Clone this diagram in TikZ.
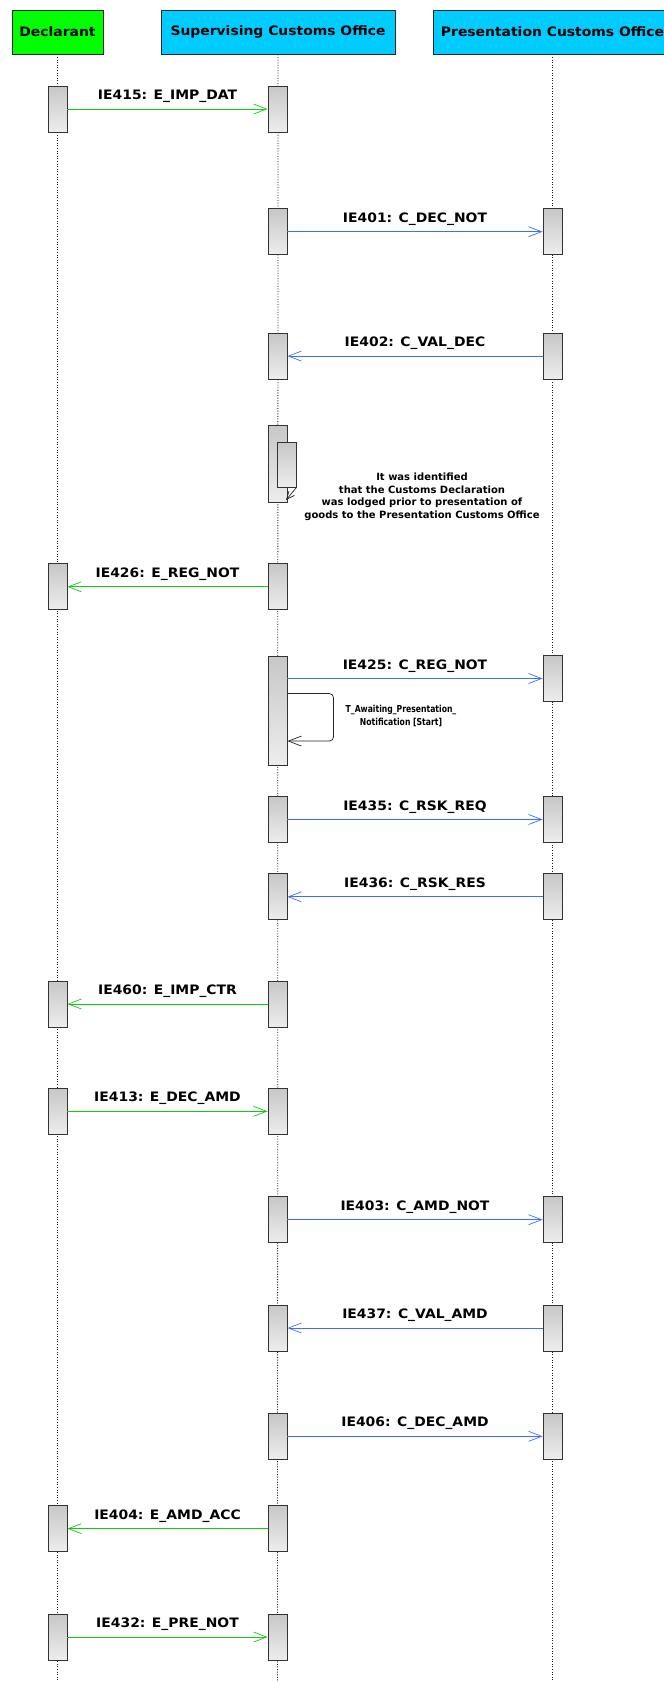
\documentclass[tikz,border=0pt]{standalone}
\usepackage{fontspec}
\usetikzlibrary{arrows.meta,calc}
\newfontfamily\lblfont{DejaVu Sans}[FakeStretch=1.07]
\newfontfamily\notefont{DejaVu Sans}
\newfontfamily\condfont{DejaVu Sans}[FakeStretch=0.8]
\definecolor{hdrgreen}{RGB}{0,255,0}
\definecolor{hdrcyan}{RGB}{0,204,255}
\definecolor{msggreen}{RGB}{20,200,20}
\definecolor{msgblue}{RGB}{60,110,255}
\begin{document}
\begin{tikzpicture}[x=1pt,y=-1pt,
 hdr/.style={draw=black!85, line width=0.9pt, minimum height=44pt, inner sep=0pt,
   font=\lblfont\bfseries\fontsize{13}{15}\selectfont},
 act/.style={draw=black!80, line width=0.9pt, top color=black!22, bottom color=black!7,
   minimum width=19pt, minimum height=46pt, inner sep=0pt},
 life/.style={black!90, line width=0.8pt, dash pattern=on 1pt off 1.6pt},
 tip/.style={-{Straight Barb[length=13pt,width=10pt,line width=0.7pt]}},
 gmsg/.style={tip, msggreen, line width=0.9pt},
 bmsg/.style={tip, msgblue, line width=0.9pt},
 kmsg/.style={black!85, line width=0.7pt},
 lbl/.style={midway, anchor=base, yshift=9.5pt, text=black, inner sep=0pt,
   font=\lblfont\bfseries\fontsize{13}{15}\selectfont},
 notetext/.style={align=center, inner sep=0pt, text=black,
   font=\notefont\bfseries\fontsize{10}{12.5}\selectfont},
 condtext/.style={align=center, inner sep=0pt, text=black,
   font=\condfont\bfseries\fontsize{9.6}{13}\selectfont}
]
\useasboundingbox (0,0) rectangle (664,1682);
\fill[white] (0,0) rectangle (664,1682);

% headers
\node[hdr, fill=hdrgreen, minimum width=91pt] (hd) at (57.5,32) {Declarant};
\node[hdr, fill=hdrcyan, minimum width=234pt] (hs) at (278,32) {Supervising Customs Office};
\node[hdr, fill=hdrcyan, minimum width=239pt] (hp) at (552.5,32) {Presentation Customs Office};

% lifelines
\coordinate (ed) at (57.5,1682);
\coordinate (es) at (277.5,1682);
\coordinate (ep) at (552.5,1682);
\draw[life] (hd.south) -- (ed);
\draw[life] (hs.south) -- (es);
\draw[life] (hp.south) -- (ep);

% activations
\node[act] (d1) at (57.5,109) {};
\node[act] (s1) at (277.5,109) {};
\node[act] (s2) at (277.5,231.7) {};
\node[act] (p2) at (552.5,231.7) {};
\node[act] (s3) at (277.5,356.1) {};
\node[act] (p3) at (552.5,356.1) {};
\node[act, minimum height=77pt] (s4) at (277.5,463.5) {};
\node[act, minimum height=45pt] (s4b) at (286.5,464.5) {};
\node[act] (d5) at (57.5,586.8) {};
\node[act] (s5) at (277.5,586.8) {};
\node[act, minimum height=109pt] (s6) at (277.5,710.5) {};
\node[act] (p6) at (552.5,678.5) {};
\node[act] (s7) at (277.5,819.5) {};
\node[act] (p7) at (552.5,819.5) {};
\node[act] (s8) at (277.5,896.8) {};
\node[act] (p8) at (552.5,896.8) {};
\node[act] (d9) at (57.5,1004) {};
\node[act] (s9) at (277.5,1004) {};
\node[act] (d10) at (57.5,1111.3) {};
\node[act] (s10) at (277.5,1111.3) {};
\node[act] (s11) at (277.5,1219.7) {};
\node[act] (p11) at (552.5,1219.7) {};
\node[act] (s12) at (277.5,1328) {};
\node[act] (p12) at (552.5,1328) {};
\node[act] (s13) at (277.5,1436.3) {};
\node[act] (p13) at (552.5,1436.3) {};
\node[act] (d14) at (57.5,1528.6) {};
\node[act] (s14) at (277.5,1528.6) {};
\node[act] (d15) at (57.5,1637) {};
\node[act] (s15) at (277.5,1637) {};

% messages
\draw[gmsg] (d1.east) -- node[lbl] {IE415: E\_IMP\_DAT} (s1.west);
\draw[bmsg] (s2.east) -- node[lbl] {IE401: C\_DEC\_NOT} (p2.west);
\draw[bmsg] (p3.west) -- node[lbl] {IE402: C\_VAL\_DEC} (s3.east);

% self message
\coordinate (s4tip) at (286,500);
\draw[kmsg, -{Straight Barb[length=8pt,width=7pt,line width=0.7pt]}] (s4b.south east) -- (s4tip);
\node[notetext] (note4) at (422,497) {It was identified\\that the Customs Declaration\\was lodged prior to presentation of\\goods to the Presentation Customs Office};

\draw[gmsg] (s5.west) -- node[lbl] {IE426: E\_REG\_NOT} (d5.east);
\draw[bmsg] (s6.east |- p6.west) -- node[lbl] {IE425: C\_REG\_NOT} (p6.west);

% timer self loop
\draw[kmsg, tip, rounded corners=4pt] ($(s6.north east)+(0,38)$) -- ($(s6.north east)+(46,38)$) -- ($(s6.north east)+(46,85.5)$) -- ($(s6.north east)+(0,85.5)$);
\node[condtext] (timer6) at (401,716) {T\_Awaiting\_Presentation\_\\Notification [Start]};

\draw[bmsg] (s7.east) -- node[lbl] {IE435: C\_RSK\_REQ} (p7.west);
\draw[bmsg] (p8.west) -- node[lbl] {IE436: C\_RSK\_RES} (s8.east);
\draw[gmsg] (s9.west) -- node[lbl] {IE460: E\_IMP\_CTR} (d9.east);
\draw[gmsg] (d10.east) -- node[lbl] {IE413: E\_DEC\_AMD} (s10.west);
\draw[bmsg] (s11.east) -- node[lbl] {IE403: C\_AMD\_NOT} (p11.west);
\draw[bmsg] (p12.west) -- node[lbl] {IE437: C\_VAL\_AMD} (s12.east);
\draw[bmsg] (s13.east) -- node[lbl] {IE406: C\_DEC\_AMD} (p13.west);
\draw[gmsg] (s14.west) -- node[lbl] {IE404: E\_AMD\_ACC} (d14.east);
\draw[gmsg] (d15.east) -- node[lbl] {IE432: E\_PRE\_NOT} (s15.west);
\end{tikzpicture}
\end{document}
